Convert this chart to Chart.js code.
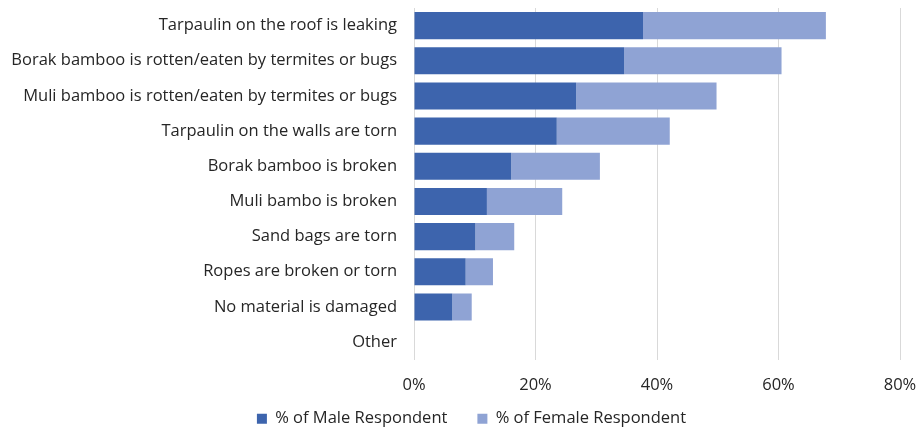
<!DOCTYPE html>
<html>
<head>
<meta charset="utf-8">
<script src="https://cdn.jsdelivr.net/npm/chart.js@4"></script>
<style>
  html, body { margin: 0; padding: 0; background: #fff; }
  #wrap { width: 922px; height: 427px; }
</style>
</head>
<body>
<div id="wrap"><canvas id="myChart"></canvas></div>
<script>
const categories = [
  'Tarpaulin on the roof is leaking',
  'Borak bamboo is rotten/eaten by termites or bugs',
  'Muli bamboo is rotten/eaten by termites or bugs',
  'Tarpaulin on the walls are torn',
  'Borak bamboo is broken',
  'Muli bambo is broken',
  'Sand bags are torn',
  'Ropes are broken or torn',
  'No material is damaged',
  'Other',
];
const maleValues = [37.7, 34.6, 26.7, 23.5, 16.0, 12.0, 10.1, 8.5, 6.3, 0];
const femaleValues = [30.1, 25.9, 23.1, 18.6, 14.6, 12.4, 6.4, 4.5, 3.2, 0];
const seriesNames = ['% of Male Respondent', '% of Female Respondent'];

const FONT = '"Open Sans", Lato, sans-serif';
const TEXT = '#262626';

// the legend in the reference sits a little right of the canvas centre
const legendShift = {
  id: 'legendShift',
  afterLayout(c) {
    c.legend.left += 21.5;
    c.legend.right += 21.5;
  },
};

const ctx = document.getElementById('myChart').getContext('2d');
const chart = new Chart(ctx, {
  type: 'bar',
  data: {
    labels: categories,
    datasets: [
      {
        label: seriesNames[0],
        data: maleValues,
        backgroundColor: '#3D64AD',
        barPercentage: 0.77,
        categoryPercentage: 1.0,
      },
      {
        label: seriesNames[1],
        data: femaleValues,
        backgroundColor: '#8FA3D4',
        barPercentage: 0.77,
        categoryPercentage: 1.0,
      },
    ],
  },
  plugins: [legendShift],
  options: {
    indexAxis: 'y',
    responsive: true,
    maintainAspectRatio: false,
    animation: false,
    layout: { padding: { top: 8, right: 22, bottom: -10, left: 0 } },
    scales: {
      x: {
        stacked: true,
        min: 0,
        max: 80,
        ticks: {
          stepSize: 20,
          color: TEXT,
          font: { family: FONT, size: 16.5 },
          padding: 16,
          callback: (v) => v + '%',
        },
        grid: { color: '#D9D9D9', lineWidth: 1, drawTicks: false },
        border: { display: false },
        afterFit: (scale) => {
          scale.height = 50.8;
          scale.paddingLeft = 0;
          scale.paddingRight = 0;
        },
      },
      y: {
        stacked: true,
        ticks: {
          color: TEXT,
          font: { family: FONT, size: 16.5 },
          padding: 17,
          autoSkip: false,
        },
        grid: { display: false, drawTicks: false },
        border: { display: true, color: '#D9D9D9', width: 1 },
        afterFit: (scale) => {
          scale.width = 414;
          scale.paddingTop = 0;
          scale.paddingBottom = 0;
        },
      },
    },
    plugins: {
      legend: {
        position: 'bottom',
        labels: {
          color: TEXT,
          font: { family: FONT, size: 16.5 },
          boxWidth: 10,
          boxHeight: 10,
          padding: 0,
          generateLabels: (c) => {
            const items = Chart.defaults.plugins.legend.labels.generateLabels(c);
            // gap between the two legend entries
            items[0].text += '\u00a0'.repeat(7);
            return items;
          },
        },
      },
      tooltip: { enabled: false },
    },
  },
});
</script>
</body>
</html>
